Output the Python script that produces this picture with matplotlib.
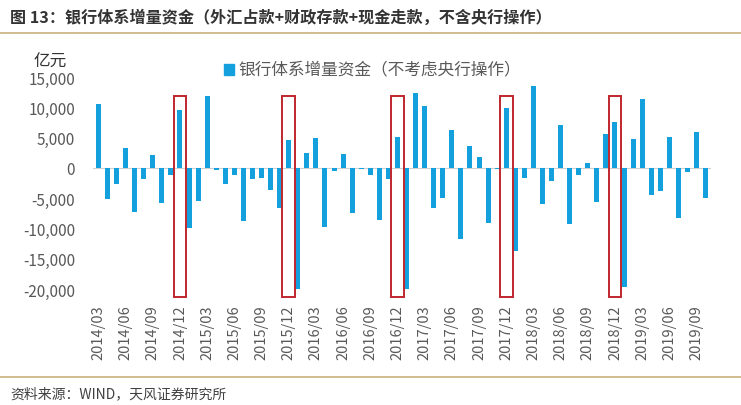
import matplotlib
matplotlib.use("Agg")
import matplotlib.pyplot as plt
from matplotlib.patches import Rectangle
from matplotlib.lines import Line2D
import numpy as np

plt.rcParams['font.family'] = ['Noto Sans CJK SC', 'DejaVu Sans']

months = []
for y in range(2014, 2020):
    for m in range(1, 13):
        if (y == 2014 and m < 3) or (y == 2019 and m > 10):
            continue
        months.append(f"{y}/{m:02d}")

values = [
    # 2014/03 - 2014/12
    10500, -5200, -2600, 3300, -7300, -1850, 2200, -5800, -1250, 9600,
    # 2015
    -9900, -5500, 11900, -300, -2700, -1200, -8800, -1850, -1700, -3600, -6600, 4550,
    # 2016
    -19950, 2500, 5000, -9750, -600, 2350, -7450, -200, -1200, -8650, -1800, 5100,
    # 2017
    -19950, 12400, 10150, -6700, -4900, 6200, -11800, 3550, 1800, -9050, -150, 9900,
    # 2018
    -13800, -1700, 13550, -5900, -2200, 7100, -9300, -1200, 850, -5650, 5600, 7600,
    # 2019
    -19650, 4700, 11300, -4500, -3900, 5150, -8300, -700, 6000, -4900,
]
highlight = ["2014/12", "2015/12", "2016/12", "2017/12", "2018/12"]
yticks = [15000, 10000, 5000, 0, -5000, -10000, -15000, -20000]

title = "图 13：银行体系增量资金（外汇占款+财政存款+现金走款，不含央行操作）"
legend_label = "银行体系增量资金（不考虑央行操作）"
unit = "亿元"
source = "资料来源：WIND，天风证券研究所"

W, H = 741, 406
fig = plt.figure(figsize=(W / 100, H / 100), dpi=100)
fig.patch.set_facecolor('white')

def fx(px):
    return px / W

def fy(py):
    return 1 - py / H

ax = fig.add_axes([fx(93), fy(290), fx(711) - fx(93), fy(78) - fy(290)])
x = np.arange(len(months))
blue = '#14A0DC'
ax.bar(x, values, width=0.55, color=blue, zorder=3)
ax.axhline(0, color='#d0d0d0', lw=0.8, zorder=2)
ax.set_xlim(-0.6, len(months) - 0.4)
ax.set_ylim(-20000, 15000)
ax.set_yticks(yticks)
ax.set_yticklabels([f"{v:,}" for v in yticks])
tick_idx = list(range(0, len(months), 3))
ax.set_xticks(tick_idx)
ax.set_xticklabels([months[i] for i in tick_idx], rotation=90)
ax.tick_params(axis='x', length=0, pad=11, labelsize=10.5, labelcolor='#595959')
ax.tick_params(axis='y', length=0, pad=13, labelsize=11, labelcolor='#595959')
for s in ax.spines.values():
    s.set_visible(False)

for h in highlight:
    i = months.index(h)
    r = Rectangle((i - 0.7, -21400), 1.4, 11800 + 21400, fill=False,
                  edgecolor='#C0272D', lw=1.4, clip_on=False, zorder=4)
    ax.add_patch(r)

# title and frame lines
fig.text(fx(10), fy(18), title, fontsize=11.6, fontweight='bold', color='#333333',
         ha='left', va='center')
fig.add_artist(Line2D([0, 1], [fy(34), fy(34)], color='#C8B27A', lw=1.2))
fig.add_artist(Line2D([0, 1], [fy(378), fy(378)], color='#C8B27A', lw=1.2))
fig.text(fx(10), fy(394), source, fontsize=10, color='#404040', ha='left', va='center')

# unit
fig.text(fx(33), fy(62), unit, fontsize=12, color='#333333', ha='left', va='center')

# legend
fig.add_artist(Rectangle((fx(224), fy(76)), fx(10), fy(65) - fy(76), transform=fig.transFigure,
                         color=blue))
fig.text(fx(238), fy(70), legend_label, fontsize=12, color='#595959', ha='left', va='center')

fig.savefig("out.png", dpi=100, facecolor='white')
